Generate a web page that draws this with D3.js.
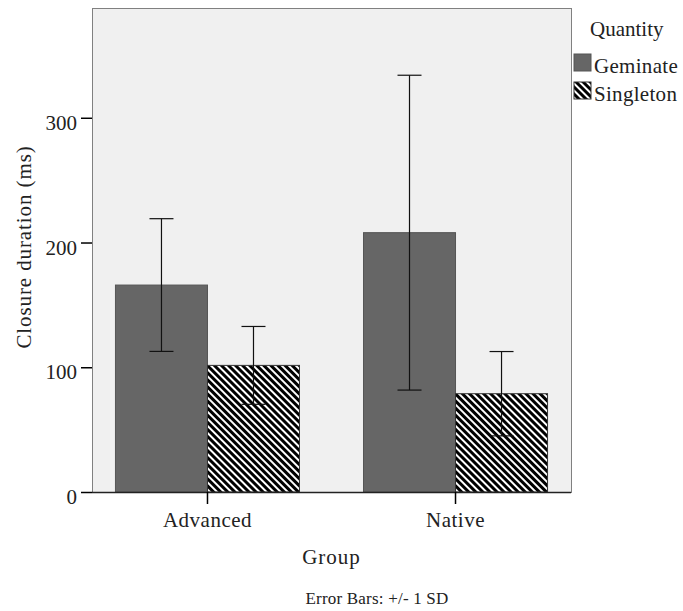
<!DOCTYPE html>
<html>
<head>
<meta charset="utf-8">
<script src="https://cdn.jsdelivr.net/npm/d3@7"></script>
<style>
    body { margin: 0; background: #fff; }
    text { font-family: "Liberation Serif", "DejaVu Serif", serif; fill: #222; }
</style>
</head>
<body>
<svg id="chart" width="683" height="611"></svg>
<script>
var groups = ["Advanced", "Native"];
var quantities = ["Geminate", "Singleton"];
var geminateMean = [165.9, 207.9];
var geminateSD = [53.2, 126.2];
var singletonMean = [101.5, 78.8];
var singletonSD = [31.2, 33.8];
var yTicks = [0, 100, 200, 300];

var data = groups.map(function(g, i) {
    return {
        group: g,
        values: [
            {key: "Geminate", mean: geminateMean[i], sd: geminateSD[i]},
            {key: "Singleton", mean: singletonMean[i], sd: singletonSD[i]}
        ]
    };
});

var svg = d3.select("#chart");

var margin = {top: 8, left: 92, bottom: 119, right: 112},
    width = +svg.attr("width"),
    height = +svg.attr("height");

var plotRight = width - margin.right,
    plotBottom = height - margin.bottom;

var defs = svg.append("defs");
var hatch = defs.append("pattern")
    .attr("id", "hatch")
    .attr("patternUnits", "userSpaceOnUse")
    .attr("width", 5)
    .attr("height", 5)
    .attr("patternTransform", "rotate(-45)");
hatch.append("rect").attr("width", 5).attr("height", 5).attr("fill", "#fff");
hatch.append("rect")
    .attr("width", 2.5)
    .attr("height", 5)
    .attr("fill", "#000")
    .attr("shape-rendering", "crispEdges");

var x0 = d3.scaleBand()
    .domain(groups)
    .range([margin.left, plotRight])
    .paddingInner(0.258)
    .paddingOuter(0.0946);

var x1 = d3.scaleBand()
    .domain(quantities)
    .range([0, x0.bandwidth()]);

var y = d3.scaleLinear()
    .domain([0, 388])
    .range([plotBottom, margin.top]);

var fills = {Geminate: "#666666", Singleton: "url(#hatch)"};
var strokes = {Geminate: "#555", Singleton: "#333"};

// plot background
svg.append("rect")
    .attr("x", margin.left + 0.5)
    .attr("y", margin.top + 0.5)
    .attr("width", plotRight - margin.left)
    .attr("height", plotBottom - margin.top)
    .attr("fill", "#f0f0f0")
    .attr("stroke", "#808080");

var groupG = svg.selectAll("g.grp")
    .data(data)
    .enter().append("g")
    .attr("class", "grp")
    .attr("transform", function(d) { return "translate(" + x0(d.group) + ",0)"; });

groupG.selectAll("rect")
    .data(function(d) { return d.values; })
    .enter().append("rect")
    .attr("x", function(d) { return x1(d.key); })
    .attr("y", function(d) { return y(d.mean); })
    .attr("width", x1.bandwidth())
    .attr("height", function(d) { return y(0) - y(d.mean); })
    .attr("fill", function(d) { return fills[d.key]; })
    .attr("stroke", function(d) { return strokes[d.key]; })
    .attr("stroke-width", 1);

var err = groupG.selectAll("g.err")
    .data(function(d) { return d.values; })
    .enter().append("g")
    .attr("class", "err")
    .attr("stroke", "#111")
    .attr("stroke-width", 1.2);

err.append("line")
    .attr("x1", function(d) { return x1(d.key) + x1.bandwidth() / 2; })
    .attr("x2", function(d) { return x1(d.key) + x1.bandwidth() / 2; })
    .attr("y1", function(d) { return y(d.mean - d.sd); })
    .attr("y2", function(d) { return y(d.mean + d.sd); });

[-1, 1].forEach(function(s) {
    err.append("line")
        .attr("x1", function(d) { return x1(d.key) + x1.bandwidth() / 2 - 12; })
        .attr("x2", function(d) { return x1(d.key) + x1.bandwidth() / 2 + 12; })
        .attr("y1", function(d) { return y(d.mean + s * d.sd); })
        .attr("y2", function(d) { return y(d.mean + s * d.sd); });
});

// axes
var yAxis = svg.append("g")
    .attr("transform", "translate(" + margin.left + ",0)")
    .call(d3.axisLeft(y).tickValues(yTicks).tickSize(11).tickPadding(4));

yAxis.select(".domain").remove();
yAxis.selectAll(".tick line").attr("stroke", "#000").attr("stroke-width", 1.5);
yAxis.selectAll(".tick text")
    .attr("font-size", 21)
    .attr("font-family", null)
    .attr("dy", "0.55em");

var xAxis = svg.append("g")
    .attr("transform", "translate(0," + plotBottom + ")")
    .call(d3.axisBottom(x0).tickSize(12).tickPadding(8));

xAxis.select(".domain")
    .attr("d", "M" + margin.left + ",0.5H" + plotRight)
    .attr("stroke", "#222")
    .attr("stroke-width", 1.5);
xAxis.selectAll(".tick line").attr("stroke", "#000").attr("stroke-width", 1.5);
xAxis.selectAll(".tick text")
    .attr("font-size", 21)
    .attr("font-family", null)
    .attr("letter-spacing", 0.5);

svg.append("text")
    .attr("x", (margin.left + plotRight) / 2)
    .attr("y", 564)
    .attr("text-anchor", "middle")
    .attr("font-size", 21)
    .attr("letter-spacing", 1)
    .text("Group");

svg.append("text")
    .attr("transform", "translate(31," + ((margin.top + plotBottom) / 2 - 3) + ") rotate(-90)")
    .attr("text-anchor", "middle")
    .attr("font-size", 21)
    .attr("letter-spacing", 0.9)
    .text("Closure duration (ms)");

svg.append("text")
    .attr("x", 377)
    .attr("y", 604)
    .attr("text-anchor", "middle")
    .attr("font-size", 17)
    .attr("letter-spacing", 0.2)
    .text("Error Bars: +/- 1 SD");

// legend
var legend = svg.append("g");

legend.append("text")
    .attr("x", 590)
    .attr("y", 36)
    .attr("font-size", 21)
    .text("Quantity");

var item = legend.selectAll("g.item")
    .data(quantities)
    .enter().append("g")
    .attr("class", "item")
    .attr("transform", function(d, i) { return "translate(574," + (54 + i * 28) + ")"; });

item.append("rect")
    .attr("width", 17)
    .attr("height", 17)
    .attr("fill", function(d) { return fills[d]; })
    .attr("stroke", function(d) { return strokes[d]; });

item.append("text")
    .attr("x", 20)
    .attr("y", 19)
    .attr("font-size", 21)
    .attr("letter-spacing", 0.3)
    .text(function(d) { return d; });
</script>
</body>
</html>
